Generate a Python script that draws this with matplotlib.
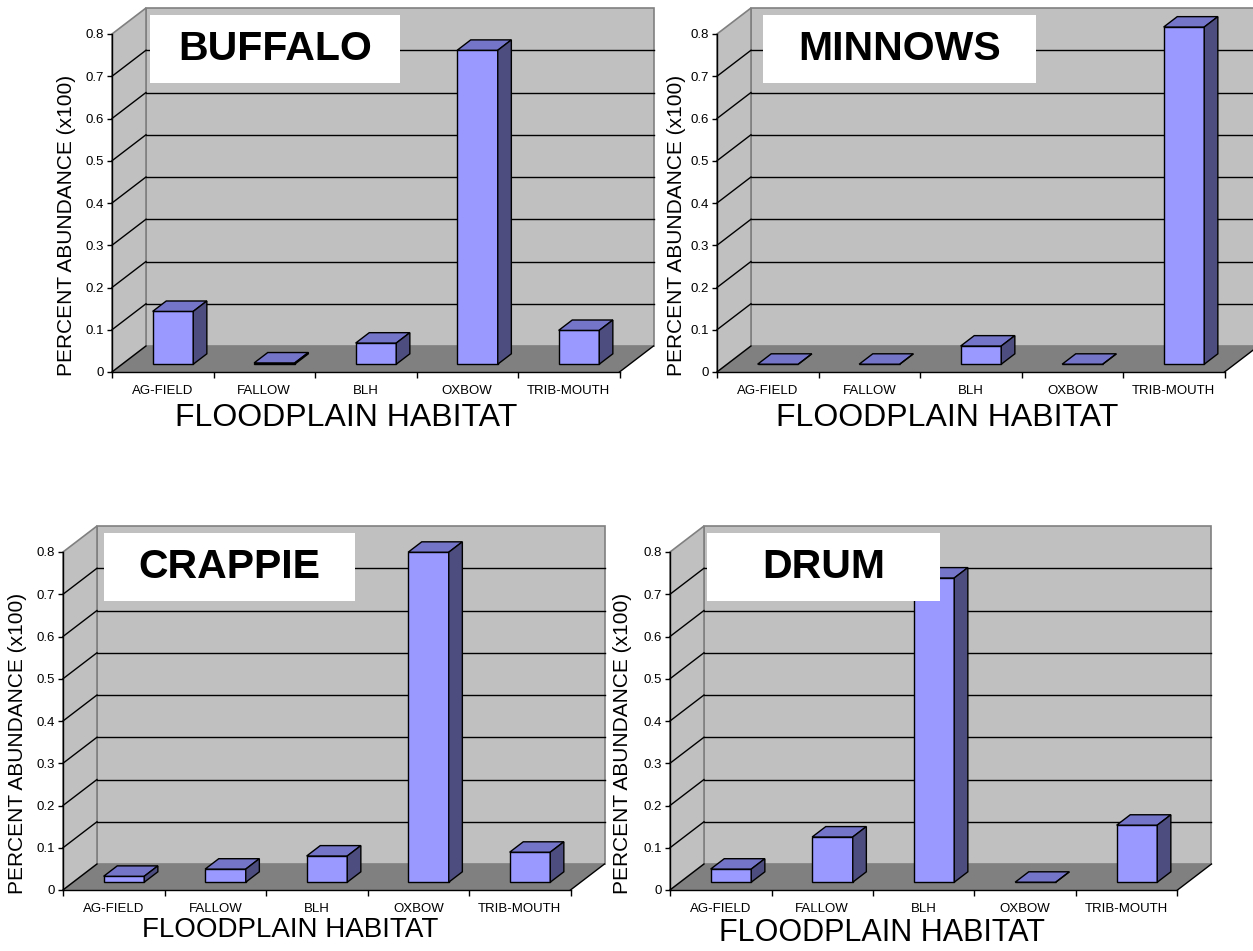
import numpy as np
import matplotlib.pyplot as plt
from matplotlib.patches import Polygon, Rectangle

plt.rcParams['font.family'] = ['Liberation Sans', 'DejaVu Sans']

# daten
habitate = ['AG-FIELD', 'FALLOW', 'BLH', 'OXBOW', 'TRIB-MOUTH']
buffalo = [0.125, 0.003, 0.05, 0.743, 0.08]
minnows = [0.0, 0.0, 0.043, 0.0, 0.798]
crappie = [0.014, 0.031, 0.062, 0.781, 0.071]
drum = [0.031, 0.107, 0.72, 0.0, 0.135]
y_ticks = [0, 0.1, 0.2, 0.3, 0.4, 0.5, 0.6, 0.7, 0.8]
y_ticklabels = ['0', '0.1', '0.2', '0.3', '0.4', '0.5', '0.6', '0.7', '0.8']

W, H = 1253, 951
fig = plt.figure(figsize=(W / 100, H / 100), dpi=100)

# tiefe des 3d-effekts in datenkoordinaten
dx = 34 / 101.5
dy = 26 / 422.5

wand = '#c0c0c0'
boden = '#808080'
front = '#9999ff'
oben = '#7474c8'
seite = '#4d4d80'


def panel(x0, y0, werte, titel, box, xlab_x, xlab_y, xlab_size, ylab_x):
    ax = fig.add_axes([x0 / W, 1 - y0 / H, 507.5 / W, 338 / H])
    ax.set_xlim(0, 5)
    ax.set_ylim(0, 0.8)
    ax.patch.set_visible(False)
    for s in ['top', 'right']:
        ax.spines[s].set_visible(False)
    ax.spines['left'].set_linewidth(1.0)
    ax.spines['bottom'].set_linewidth(1.0)
    ax.spines['left'].set_zorder(4)
    ax.spines['bottom'].set_zorder(4)

    n = len(werte)
    # rueckwand, seitenwand, boden
    ax.add_patch(Rectangle((dx, dy), n, 0.8, fc=wand, ec=boden, lw=1.2, zorder=1, clip_on=False))
    ax.add_patch(Polygon([(0, 0), (0, 0.8), (dx, 0.8 + dy), (dx, dy)], closed=True,
                         fc=wand, ec=boden, lw=1.2, zorder=1, clip_on=False))
    for v in y_ticks[1:-1]:
        ax.plot([dx, n + dx], [v + dy, v + dy], color='black', lw=1.0, zorder=1.2, clip_on=False)
        ax.plot([0, dx], [v, v + dy], color='black', lw=1.0, zorder=1.2, clip_on=False)
    ax.add_patch(Polygon([(0, 0), (n, 0), (n + dx, dy), (dx, dy)], closed=True,
                         fc=boden, ec='none', zorder=1.3, clip_on=False))
    ax.plot([0, dx], [0, dy], color='black', lw=1.0, zorder=1.4, clip_on=False)
    ax.plot([n, n + dx], [0, dy], color='black', lw=1.0, zorder=1.4, clip_on=False)

    # saeulen
    f = 0.3
    t = 0.4
    for i, v in enumerate(werte):
        xl = i + 0.3 + f * dx
        xr = i + 0.7 + f * dx
        yb = f * dy
        ax.add_patch(Polygon([(xl, yb), (xr, yb), (xr, yb + v), (xl, yb + v)], closed=True,
                             fc=front, ec='black', lw=1.0, zorder=2, clip_on=False))
        ax.add_patch(Polygon([(xl, yb + v), (xr, yb + v), (xr + t * dx, yb + v + t * dy),
                              (xl + t * dx, yb + v + t * dy)], closed=True,
                             fc=oben, ec='black', lw=1.0, zorder=2, clip_on=False))
        ax.add_patch(Polygon([(xr, yb), (xr + t * dx, yb + t * dy), (xr + t * dx, yb + v + t * dy),
                              (xr, yb + v)], closed=True,
                             fc=seite, ec='black', lw=1.0, zorder=2, clip_on=False))

    # achsen
    ax.set_yticks(y_ticks)
    ax.set_yticklabels(y_ticklabels)
    ax.tick_params(axis='y', direction='out', length=3.5, width=1, pad=2, labelsize=9.5)
    ax.set_xticks(np.arange(n + 1))
    ax.set_xticklabels([])
    ax.set_xticks(np.arange(n) + 0.5, minor=True)
    ax.set_xticklabels(habitate, minor=True)
    ax.tick_params(axis='x', which='major', direction='out', length=4.5, width=1)
    ax.tick_params(axis='x', which='minor', length=0, pad=9, labelsize=9.5)

    ax.text(xlab_x, xlab_y, 'FLOODPLAIN HABITAT', transform=ax.transAxes,
            ha='center', va='center', fontsize=xlab_size)
    ax.text(ylab_x, 0.435, 'PERCENT ABUNDANCE (x100)', transform=ax.transAxes,
            ha='center', va='center', rotation=90, fontsize=15)

    # titelkasten
    bx, bw = box
    ax.add_patch(Rectangle((bx, 0.855), bw, 0.201, transform=ax.transAxes, fc='white',
                           ec='none', zorder=5, clip_on=False))
    ax.text(bx + bw / 2, 0.855 + 0.1, titel, transform=ax.transAxes, ha='center', va='center',
            fontsize=29.5, fontweight='bold', zorder=6)


panel(112, 372, buffalo, 'BUFFALO', (0.075, 0.493), 0.462, -0.136, 23, -0.089)
panel(717, 372, minnows, 'MINNOWS', (0.091, 0.538), 0.453, -0.136, 23, -0.079)
panel(63, 890, crappie, 'CRAPPIE', (0.081, 0.495), 0.447, -0.118, 20, -0.089)
panel(670, 890, drum, 'DRUM', (0.073, 0.459), 0.418, -0.127, 22, -0.093)

plt.savefig('out.png', dpi=100)
